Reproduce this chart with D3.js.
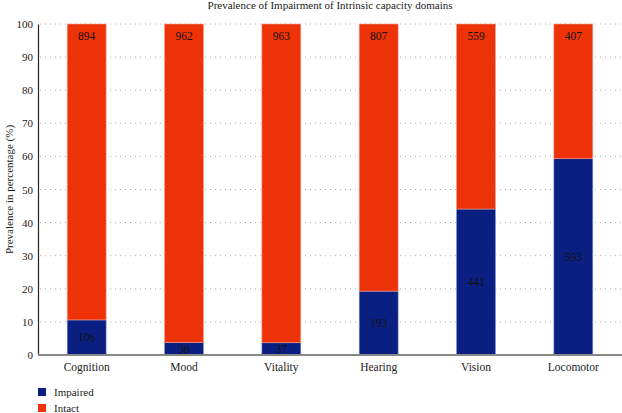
<!DOCTYPE html>
<html><head><meta charset="utf-8">
<script src="https://cdn.jsdelivr.net/npm/d3@7"></script>
<style>body{margin:0;background:#fff}svg{display:block}svg text{font-family:"Liberation Serif","Times New Roman",serif !important}</style>
</head><body><svg id="c" width="622" height="413"></svg>
<script>
const categories = ["Cognition","Mood","Vitality","Hearing","Vision","Locomotor"];
const impaired = [106,38,37,193,441,593];
const intact = [894,962,963,807,559,407];
const yTicks = [0,10,20,30,40,50,60,70,80,90,100];
const seriesNames = ["Impaired","Intact"];
const colors = ["#0b1f82","#ee3308"];
const FONT = "'Liberation Serif', serif";

const svg = d3.select("#c");
const m = {l:38, r:622, t:24, b:355};
const x = d3.scaleBand().domain(categories).range([m.l, m.r]).paddingInner(0.6).paddingOuter(0.3);
const y = d3.scaleLinear().domain([0,100]).range([m.b, m.t]);

const data = categories.map((c,i)=>{const tot=impaired[i]+intact[i];return {c, imp:impaired[i], int:intact[i], pi:impaired[i]/tot*100};});

// grid
svg.append("g").selectAll("line").data(yTicks.filter(d=>d>0)).join("line")
  .attr("x1", m.l+2).attr("x2", m.r).attr("y1", d=>y(d)).attr("y2", d=>y(d))
  .attr("stroke","#aaa").attr("stroke-width",1).attr("stroke-dasharray","1,4");

// bars
const g = svg.append("g");
g.selectAll("rect.imp").data(data).join("rect").attr("class","imp")
  .attr("x", d=>x(d.c)).attr("width", x.bandwidth())
  .attr("y", d=>y(d.pi)).attr("height", d=>y(0)-y(d.pi))
  .attr("fill", colors[0]).attr("stroke","#8a95d0").attr("stroke-width",0.6);
g.selectAll("rect.int").data(data).join("rect").attr("class","int")
  .attr("x", d=>x(d.c)).attr("width", x.bandwidth())
  .attr("y", y(100)).attr("height", d=>y(d.pi)-y(100))
  .attr("fill", colors[1]).attr("stroke","#f5a090").attr("stroke-width",0.6);

// labels
g.selectAll("text.li").data(data).join("text").attr("class","li")
  .attr("x", d=>x(d.c)+x.bandwidth()/2).attr("y", d=>(y(d.pi)+y(0))/2)
  .attr("dy","0.35em").attr("text-anchor","middle").style("font-size","11.5px").attr("fill","#111")
  .text(d=>d.imp);
g.selectAll("text.lt").data(data).join("text").attr("class","lt")
  .attr("x", d=>x(d.c)+x.bandwidth()/2).attr("y", y(100)+12)
  .attr("dy","0.35em").attr("text-anchor","middle").style("font-size","11.5px").attr("fill","#111")
  .text(d=>d.int);

// y axis
const ya = svg.append("g").attr("transform",`translate(${m.l},0)`)
  .call(d3.axisLeft(y).tickValues(yTicks).tickSize(0).tickPadding(5));
ya.attr("font-family", null);
ya.select(".domain").attr("stroke","#222").attr("stroke-width",1.2);
ya.selectAll("text").style("font-size","11px").attr("fill","#222").style("font-family",FONT);

// x axis
const xa = svg.append("g").attr("transform",`translate(0,${m.b})`)
  .call(d3.axisBottom(x).tickSize(0).tickPadding(8));
xa.attr("font-family", null);
xa.select(".domain").attr("stroke","#888").attr("stroke-width",2).attr("d",`M${m.l},0H${m.r}`);
xa.selectAll("text").style("font-size","11.5px").attr("fill","#222").style("font-family",FONT);

// title
svg.append("text").attr("x",(m.l+m.r)/2).attr("y",9).attr("text-anchor","middle")
  .style("font-size","11px").attr("fill","#222").text("Prevalence of Impairment of Intrinsic capacity domains");
// y label
svg.append("text").attr("transform",`translate(9,${(m.t+m.b)/2}) rotate(-90)`).attr("text-anchor","middle")
  .style("font-size","11px").attr("fill","#222").attr("dy","0.35em").text("Prevalence in percentage (%)");

// legend
const lg = svg.append("g").selectAll("g").data(seriesNames).join("g")
  .attr("transform",(d,i)=>`translate(38,${392+i*16})`);
lg.append("rect").attr("x",0).attr("y",-4).attr("width",8).attr("height",8).attr("fill",(d,i)=>colors[i]);
lg.append("text").attr("x",16).attr("y",0).attr("dy","0.35em").style("font-size","11px").attr("fill","#222").text(d=>d);
</script></body></html>
